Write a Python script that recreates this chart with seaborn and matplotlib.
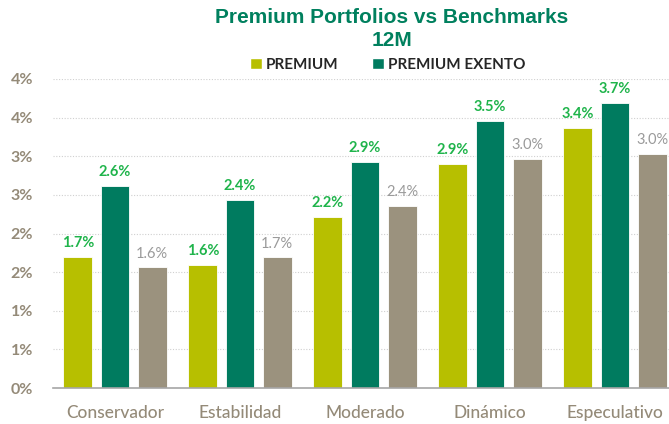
import pandas as pd
import matplotlib.pyplot as plt
import seaborn as sns
from matplotlib.patches import Patch

# Chart data
categories = ['Conservador', 'Estabilidad', 'Moderado', 'Dinámico', 'Especulativo']
series = ['PREMIUM', 'PREMIUM EXENTO', 'BENCHMARK']
premium = [1.70, 1.59, 2.21, 2.90, 3.36]
premium_exento = [2.62, 2.44, 2.92, 3.46, 3.69]
benchmark = [1.56, 1.69, 2.36, 2.97, 3.03]
y_ticks = [0, 0.5, 1, 1.5, 2, 2.5, 3, 3.5, 4]
y_tick_labels = ['0%', '1%', '1%', '2%', '2%', '3%', '3%', '4%', '4%']

colors = ['#B7BF00', '#007B5F', '#9B927E']
label_colors = ['#1FB44B', '#1FB44B', '#9A9A9A']
tick_gray = '#948A78'

df = pd.DataFrame({
    'Perfil': categories * 3,
    'Serie': [s for s in series for _ in categories],
    'Valor': premium + premium_exento + benchmark,
})

sns.set_style('white')
plt.rcParams['font.family'] = ['Lato', 'DejaVu Sans']

fig = plt.figure(figsize=(6.69, 4.24), dpi=100)
ax = fig.add_axes([52.5 / 669, 36 / 424, 625 / 669, 309 / 424])

sns.barplot(data=df, x='Perfil', y='Valor', hue='Serie', order=categories,
            hue_order=series, palette=colors, width=0.89, gap=0.22,
            edgecolor='white', linewidth=0.6, saturation=1, legend=False, ax=ax)

# value labels
for cont, col in zip(ax.containers, label_colors):
    bold = 'normal' if col == '#9A9A9A' else 'bold'
    ax.bar_label(cont, fmt='%.1f%%', padding=5, color=col, fontsize=10.5,
                 fontweight=bold, clip_on=False)

ax.set_xlim(-0.5, 4.5)
ax.set_ylim(0, 4)
ax.set_yticks(y_ticks)
ax.set_yticklabels(y_tick_labels)
ax.set_xlabel('')
ax.set_ylabel('')
ax.yaxis.grid(True, linestyle=(0, (1, 1.5)), color='#D0D0D0', linewidth=0.8)
ax.set_axisbelow(True)
for s in ['top', 'right', 'left']:
    ax.spines[s].set_visible(False)
ax.spines['bottom'].set_color('#A6A6A6')
ax.spines['bottom'].set_linewidth(1.2)
ax.tick_params(axis='y', length=0, pad=14, labelsize=11.5, labelcolor=tick_gray)
ax.tick_params(axis='x', length=0, pad=12, labelsize=12.5, labelcolor=tick_gray)
for t in ax.get_yticklabels():
    t.set_fontweight('bold')
for t in ax.get_xticklabels():
    t.set_fontweight('medium')

fig.text(392 / 669, 1 - 8 / 424, 'Premium Portfolios vs Benchmarks\n12M',
         ha='center', va='top', fontsize=15, fontweight='bold',
         color='#00805E', family='Liberation Sans', linespacing=1.3)

handles = [Patch(facecolor=colors[0]), Patch(facecolor=colors[1])]
fig.legend(handles, series[:2], loc='center', bbox_to_anchor=(388 / 669, 1 - 65 / 424),
           ncol=2, frameon=False, handlelength=0.75, handleheight=0.75,
           handletextpad=0.3, columnspacing=2.2,
           prop={'weight': 'bold', 'size': 11})

fig.savefig('out.png', dpi=100)
